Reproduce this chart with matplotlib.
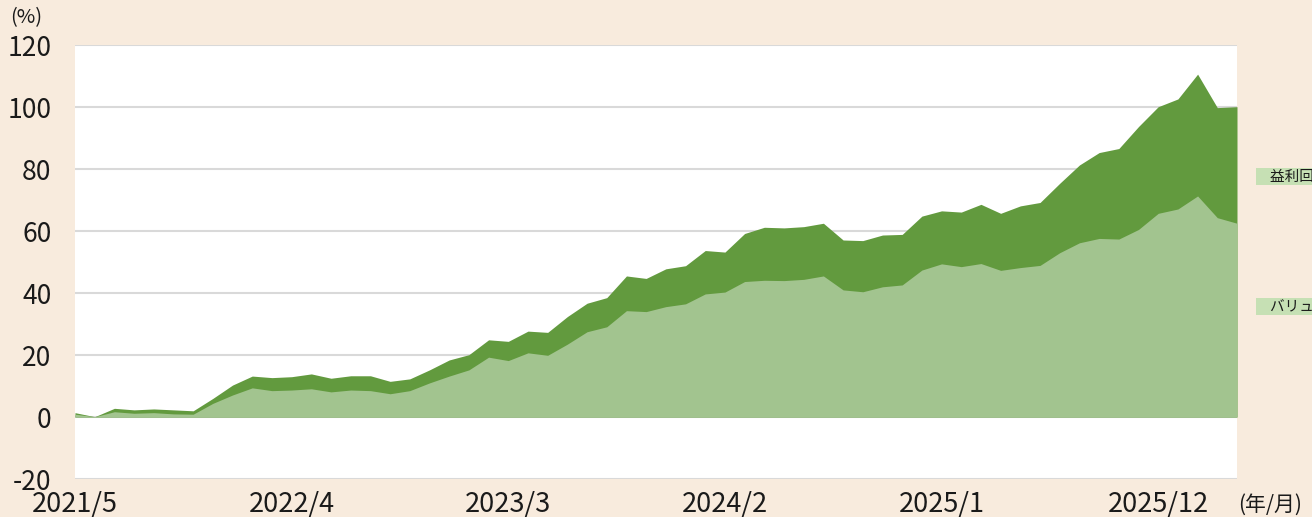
import matplotlib
matplotlib.use("Agg")
import matplotlib.pyplot as plt
import numpy as np

plt.rcParams['font.family'] = ['Noto Sans CJK JP', 'DejaVu Sans']

# monthly data 2021/5 .. 2026/4
months = [f"{y}/{m}" for y in range(2021, 2027) for m in range(1, 13)][4:64]

total = [1.4, 0.1, 2.8, 2.3, 2.6, 2.3, 2.0, 6.0, 10.3, 13.2,
         12.7, 13.0, 13.9, 12.5, 13.3, 13.3, 11.5, 12.3, 15.2, 18.4,
         20.1, 24.9, 24.4, 27.7, 27.3, 32.4, 36.7, 38.5, 45.5, 44.7,
         47.8, 48.8, 53.7, 53.2, 59.2, 61.2, 61.0, 61.4, 62.5, 57.1,
         56.9, 58.7, 58.9, 64.8, 66.5, 66.1, 68.6, 65.7, 68.1, 69.2,
         75.4, 81.3, 85.3, 86.6, 93.7, 100.1, 102.6, 110.6, 99.8, 100.1]

value = [0.9, 0.1, 1.7, 1.2, 1.4, 1.0, 0.9, 4.4, 7.1, 9.4,
         8.5, 8.7, 9.1, 8.1, 8.7, 8.5, 7.5, 8.5, 11.0, 13.2,
         15.2, 19.3, 18.2, 20.7, 19.9, 23.5, 27.5, 29.1, 34.3, 34.0,
         35.6, 36.5, 39.7, 40.3, 43.7, 44.1, 44.0, 44.4, 45.5, 41.0,
         40.4, 42.0, 42.6, 47.4, 49.4, 48.5, 49.5, 47.3, 48.2, 48.9,
         53.0, 56.2, 57.6, 57.4, 60.5, 65.7, 67.1, 71.3, 64.3, 62.5]

series_labels = ["益利回り要因", "バリュー要因"]
label_values = [77.5, 35.5]

xtick_labels = ["2021/5", "2022/4", "2023/3", "2024/2", "2025/1", "2025/12"]
yticks = [-20, 0, 20, 40, 60, 80, 100, 120]

bg = "#f8ebdd"
dark = "#629a3e"
light = "#a2c48f"

fig = plt.figure(figsize=(13.12, 5.17), dpi=100, facecolor=bg)
ax = fig.add_axes([75/1312, 38/517, 1162/1312, 434/517])
ax.set_facecolor("white")

x = np.arange(len(months))
ax.fill_between(x, 0, total, color=dark, linewidth=0, zorder=2)
ax.fill_between(x, 0, value, color=light, linewidth=0, zorder=3)

ax.set_xlim(0, len(months) - 1)
ax.set_ylim(-20, 120)
ax.set_yticks(yticks)
ax.set_yticklabels([str(v) for v in yticks])
ax.yaxis.grid(True, color="#d9d9d9", linewidth=1.5, zorder=1)
ax.set_axisbelow(True)

tick_pos = [months.index(m) for m in xtick_labels]
ax.set_xticks(tick_pos)
ax.set_xticklabels(xtick_labels)

for s in ax.spines.values():
    s.set_visible(False)
ax.tick_params(axis='y', length=0, pad=17, labelsize=19, colors="#1a1a1a")
ax.tick_params(axis='x', length=0, pad=8.5, labelsize=19.5, colors="#1a1a1a")

fig.text(10/1312, 1 - 18/517, "(%)", fontsize=14.5, va="center", ha="left", color="#1a1a1a")
fig.text(1238/1312, 1 - 505/517, "(年/月)", fontsize=15, va="center", ha="left", color="#1a1a1a")

for lab, v in zip(series_labels, label_values):
    ax.annotate("    " + lab, xy=(1257/1312, 0), xycoords=("figure fraction", "data"),
                xytext=(0, v), textcoords=("offset points", "data"),
                fontsize=10.5, va="center", ha="left", color="#1a1a1a",
                annotation_clip=False,
                bbox=dict(boxstyle="square,pad=0.1", fc="#c6e0b4", ec="none"))

fig.savefig("out.png", dpi=100, facecolor=bg)
